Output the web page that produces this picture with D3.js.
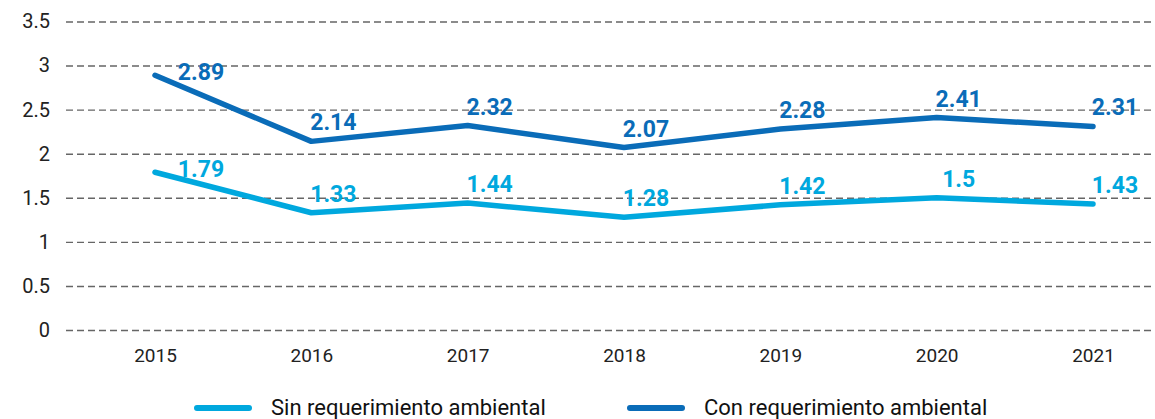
<!DOCTYPE html>
<html>
<head>
<meta charset="utf-8">
<script src="https://cdn.jsdelivr.net/npm/d3@7"></script>
<style>
  body { margin: 0; background: #fff; }
  svg { display: block; font-family: Roboto, "Noto Sans", sans-serif; }
</style>
</head>
<body>
<svg width="1155" height="419"></svg>
<script>
// datos
const years = ["2015", "2016", "2017", "2018", "2019", "2020", "2021"];
const sinReq = [1.79, 1.33, 1.44, 1.28, 1.42, 1.5, 1.43];
const conReq = [2.89, 2.14, 2.32, 2.07, 2.28, 2.41, 2.31];
const yTicks = [0, 0.5, 1, 1.5, 2, 2.5, 3, 3.5];
const seriesNames = ["Sin requerimiento ambiental", "Con requerimiento ambiental"];
const colors = ["#00a8de", "#0a6cb8"];

const svg = d3.select("svg");
const width = +svg.attr("width");

const x = d3.scalePoint().domain(years).range([155, 1093]);
const y = d3.scaleLinear().domain([0, 3.5]).range([330, 21.5]);

// rejilla + eje y
const gy = svg.append("g")
    .attr("transform", "translate(66,0)")
    .call(d3.axisLeft(y).tickValues(yTicks).tickSize(-(width - 66)).tickPadding(16)
        .tickFormat(d => String(d)));
gy.select(".domain").remove();
gy.selectAll(".tick line")
    .attr("stroke", "#666")
    .attr("stroke-width", 1.4)
    .attr("stroke-dasharray", "7,4");
gy.selectAll(".tick text")
    .attr("fill", "#222")
    .style("font-size", "20px")
    .style("font-family", "Roboto, sans-serif");

// eje x
const gx = svg.append("g")
    .attr("transform", "translate(0,330)")
    .call(d3.axisBottom(x).tickSize(0).tickPadding(19));
gx.select(".domain").remove();
gx.selectAll(".tick text")
    .attr("fill", "#222")
    .style("font-size", "19px")
    .style("font-family", "Roboto, sans-serif");

const line = d3.line()
    .x((d, i) => x(years[i]))
    .y(d => y(d));

[sinReq, conReq].forEach((vals, s) => {
    svg.append("path")
        .attr("d", line(vals))
        .attr("fill", "none")
        .attr("stroke", colors[s])
        .attr("stroke-width", 5.5)
        .attr("stroke-linejoin", "round")
        .attr("stroke-linecap", "round");

    svg.append("g").selectAll("text")
        .data(vals)
        .join("text")
        .attr("x", (d, i) => x(years[i]) + (i === 0 ? 46 : 22))
        .attr("y", (d, i) => y(d) + (i === 0 ? 5 : -11))
        .attr("text-anchor", "middle")
        .attr("fill", colors[s])
        .style("font-size", "23px")
        .style("font-weight", "bold")
        .text(d => d);
});

// leyenda
const legX = [197, 630];
seriesNames.forEach((name, s) => {
    const g = svg.append("g").attr("transform", `translate(${legX[s]},408)`);
    g.append("line")
        .attr("x1", 0).attr("x2", 52)
        .attr("stroke", colors[s])
        .attr("stroke-width", 6)
        .attr("stroke-linecap", "round");
    g.append("text")
        .attr("x", 74)
        .attr("y", 7)
        .attr("fill", "#111")
        .style("font-size", "22px")
        .text(name);
});
</script>
</body>
</html>
